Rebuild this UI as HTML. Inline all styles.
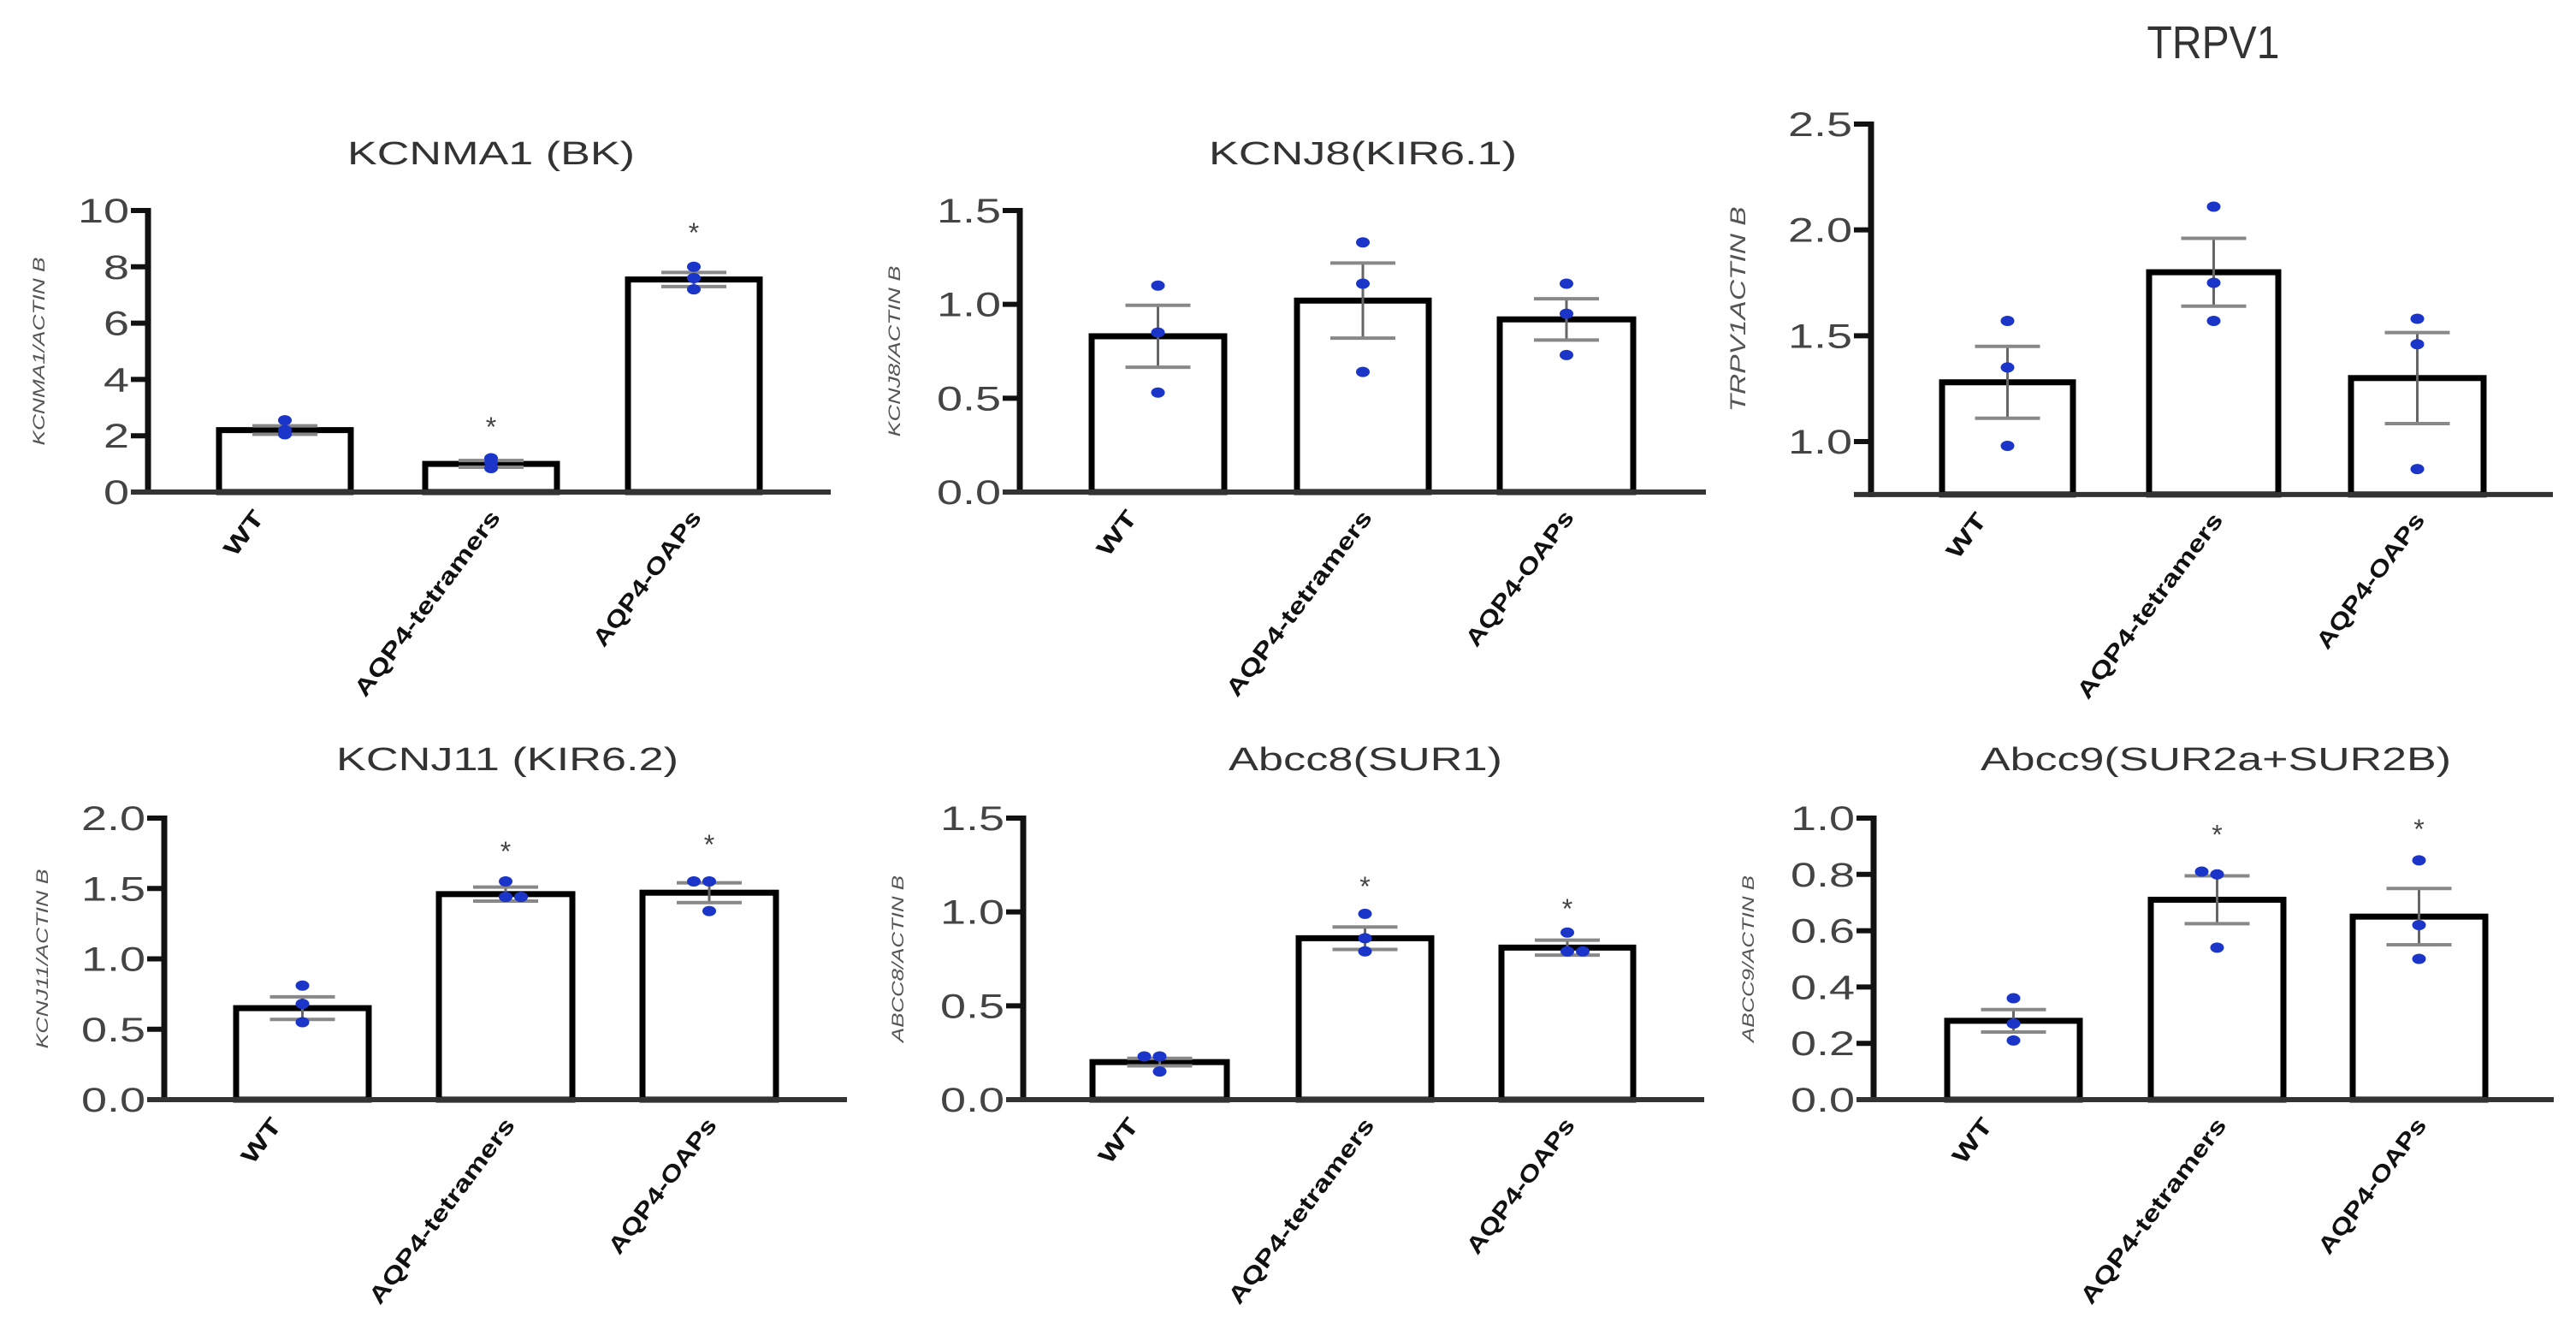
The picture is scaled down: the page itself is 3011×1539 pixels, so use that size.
<!DOCTYPE html>
<html><head><meta charset="utf-8"><style>
html,body{margin:0;padding:0;background:#fff;overflow:hidden;}
svg{display:block;font-family:"Liberation Sans",Arial,sans-serif;}
</style></head><body>
<svg id="fig" width="3011" height="1539" viewBox="0 0 3011 1539"></svg>
<script>
const categories = ["WT","AQP4-tetramers","AQP4-OAPs"];
const titles = ["KCNMA1 (BK)","KCNJ8(KIR6.1)","TRPV1","KCNJ11 (KIR6.2)","Abcc8(SUR1)","Abcc9(SUR2a+SUR2B)"];
const yLabels = ["KCNMA1/ACTIN B","KCNJ8/ACTIN B","TRPV1ACTIN B","KCNJ11/ACTIN B","ABCC8/ACTIN B","ABCC9/ACTIN B"];
const yTicks1 = ["0","2","4","6","8","10"];
const yTicks2 = ["0.0","0.5","1.0","1.5"];
const yTicks3 = ["1.0","1.5","2.0","2.5"];
const yTicks4 = ["0.0","0.5","1.0","1.5","2.0"];
const yTicks5 = ["0.0","0.5","1.0","1.5"];
const yTicks6 = ["0.0","0.2","0.4","0.6","0.8","1.0"];
const means1 = [2.2,1.0,7.55], sem1 = [0.15,0.12,0.25];
const pts1 = [[2.55,2.2,2.05],[1.2,1.05,0.85],[8.0,7.6,7.2]];
const means2 = [0.83,1.02,0.92], sem2 = [0.165,0.2,0.11];
const pts2 = [[1.10,0.85,0.53],[1.33,1.11,0.64],[1.11,0.95,0.73]];
const means3 = [1.28,1.80,1.30], sem3 = [0.17,0.16,0.215];
const pts3 = [[1.57,1.35,0.98],[2.11,1.75,1.57],[1.58,1.46,0.87]];
const means4 = [0.65,1.46,1.47], sem4 = [0.08,0.05,0.07];
const pts4 = [[0.81,0.68,0.55],[1.55,1.44,1.44],[1.55,1.55,1.34]];
const means5 = [0.20,0.86,0.81], sem5 = [0.02,0.06,0.04];
const pts5 = [[0.23,0.23,0.15],[0.99,0.86,0.79],[0.89,0.79,0.79]];
const means6 = [0.28,0.71,0.65], sem6 = [0.04,0.085,0.1];
const pts6 = [[0.36,0.27,0.21],[0.81,0.80,0.54],[0.85,0.62,0.50]];
const stars1 = [null,2.4,9.3];
const stars4 = [null,1.78,1.83];
const stars5 = [null,1.15,1.03];
const stars6 = [null,0.95,0.97];

const NS="http://www.w3.org/2000/svg";
const svg=document.getElementById('fig');
function mk(tag,attrs,parent,text){const e=document.createElementNS(NS,tag);for(const k in attrs)e.setAttribute(k,attrs[k]);if(text!==undefined)e.textContent=text;(parent||svg).appendChild(e);return e;}

const panels=[
 {ax:173,xe:971,yt:246,yb:575,vmin:0,vmax:10,bars:[[256,410],[497,651],[734,888]],tx:574,ty:192,tw:336,tf:38,ylx:52,ylf:19,yll:220,ticks:yTicks1,means:means1,sem:sem1,pts:pts1,stars:stars1},
 {ax:1192,xe:1994,yt:246,yb:575,vmin:0,vmax:1.5,bars:[[1276,1431],[1516,1670],[1753,1909]],tx:1593,ty:192,tw:360,tf:38,ylx:1052,ylf:19,yll:200,ticks:yTicks2,means:means2,sem:sem2,pts:pts2,stars:[null,null,null]},
 {ax:2187,xe:2984,yt:145,yb:516,vmin:1.0,vmax:2.5,base:0.75,bars:[[2270,2423],[2512,2663],[2748,2903]],tx:2587,ty:68,tw:155,tf:54,ylx:2040,ylf:25,yll:240,ticks:yTicks3,means:means3,sem:sem3,pts:pts3,stars:[null,null,null]},
 {ax:192,xe:990,yt:956,yb:1285,vmin:0,vmax:2,bars:[[276,431],[513,669],[751,907]],tx:593,ty:900,tw:400,tf:38,ylx:56,ylf:19,yll:210,ticks:yTicks4,means:means4,sem:sem4,pts:pts4,stars:stars4},
 {ax:1196,xe:1992,yt:956,yb:1285,vmin:0,vmax:1.5,bars:[[1277,1434],[1518,1673],[1755,1909]],tx:1596,ty:900,tw:320,tf:38,ylx:1056,ylf:19,yll:195,ticks:yTicks5,means:means5,sem:sem5,pts:pts5,stars:stars5},
 {ax:2190,xe:2985,yt:956,yb:1285,vmin:0,vmax:1.0,bars:[[2276,2431],[2514,2669],[2750,2905]],tx:2590,ty:900,tw:550,tf:38,ylx:2050,ylf:19,yll:195,ticks:yTicks6,means:means6,sem:sem6,pts:pts6,stars:stars6}
];
const labelDx=[-23,12,10];
const labelLen=[59,264,191];

panels.forEach((p,i)=>{
  const g=mk('g',{});
  
  
  const vlo=p.vmin, vhi=p.vmax;
  const y=v=>p.yt+(vhi-v)/(vhi-vlo)*(p.yb-p.yt);
  const baseV=p.base!==undefined?p.base:p.vmin;
  const baseY=y(baseV);
  const t=mk('text',{x:p.tx-p.tw/2,y:p.ty,'font-size':p.tf,fill:'#333',textLength:p.tw,lengthAdjust:'spacingAndGlyphs'},g,titles[i]);
  
  
  const cy=(p.yt+baseY)/2;
  const yl=mk('text',{x:p.ylx-p.yll/2,y:cy,'font-size':p.ylf,'font-style':'italic',fill:'#555',textLength:p.yll,lengthAdjust:'spacingAndGlyphs',transform:`rotate(-90 ${p.ylx} ${cy})`},g,yLabels[i]);
  
  
  p.ticks.forEach((lab)=>{
    const v=parseFloat(lab);
    const ty=y(v);
    const tk=mk('line',{x1:p.ax-20,x2:p.ax,y1:ty,y2:ty,stroke:'#111','stroke-width':6},g);
    
    
    const tl=mk('text',{x:0,y:0,'text-anchor':'end','font-size':40,fill:'#444',transform:`translate(${p.ax-22} ${ty+14}) scale(1.35 1)`},g,lab);
    
    
  });
  categories.forEach((c,k)=>{
    const [x0,x1]=p.bars[k];
    const cx=(x0+x1)/2;
    const top=y(p.means[k]);
    const b=mk('rect',{x:x0,y:top,width:x1-x0,height:baseY-top,fill:'#fff',stroke:'#000','stroke-width':7},g);
    
    
    const eh=y(p.means[k]+p.sem[k]), el=y(p.means[k]-p.sem[k]);
    const ev=mk('line',{x1:cx,x2:cx,y1:eh,y2:el,stroke:'#666','stroke-width':3},g);
    
    
    [eh,el].forEach(yy=>{
      const cap=mk('line',{x1:cx-38,x2:cx+38,y1:yy,y2:yy,stroke:'#888','stroke-width':4},g);
      
      
    });
    const offs=[-18,0,18];
    p.pts[k].forEach((v,j)=>{
      const dx=(p.pts[k].filter(w=>Math.abs(w-v)<0.02).length>1)?offs[j]:0;
      const d=mk('ellipse',{cx:cx+dx,cy:y(v),rx:8,ry:6,fill:'#1a35c8'},g);
      
      
    });
    if(p.stars[k]!=null){
      const s=mk('text',{x:cx,y:y(p.stars[k])+14,'text-anchor':'middle','font-size':32,fill:'#444'},g,'*');
      
      
    }
    const L=labelLen[k];
    const ax=cx+labelDx[k], ay=baseY+30;
    const xl=mk('text',{x:ax-L,y:ay,'font-size':27,'font-weight':'bold',fill:'#111',textLength:L,lengthAdjust:'spacingAndGlyphs',transform:`rotate(-53 ${ax} ${ay})`},g,c);
    
    
  });
  const ya=mk('line',{x1:p.ax,x2:p.ax,y1:p.yt-3,y2:baseY+3,stroke:'#111','stroke-width':7},g);
  
  
  const xa=mk('line',{x1:p.ax-20,x2:p.xe,y1:baseY,y2:baseY,stroke:'#333','stroke-width':6},g);
  
  
});
</script>
</body></html>
